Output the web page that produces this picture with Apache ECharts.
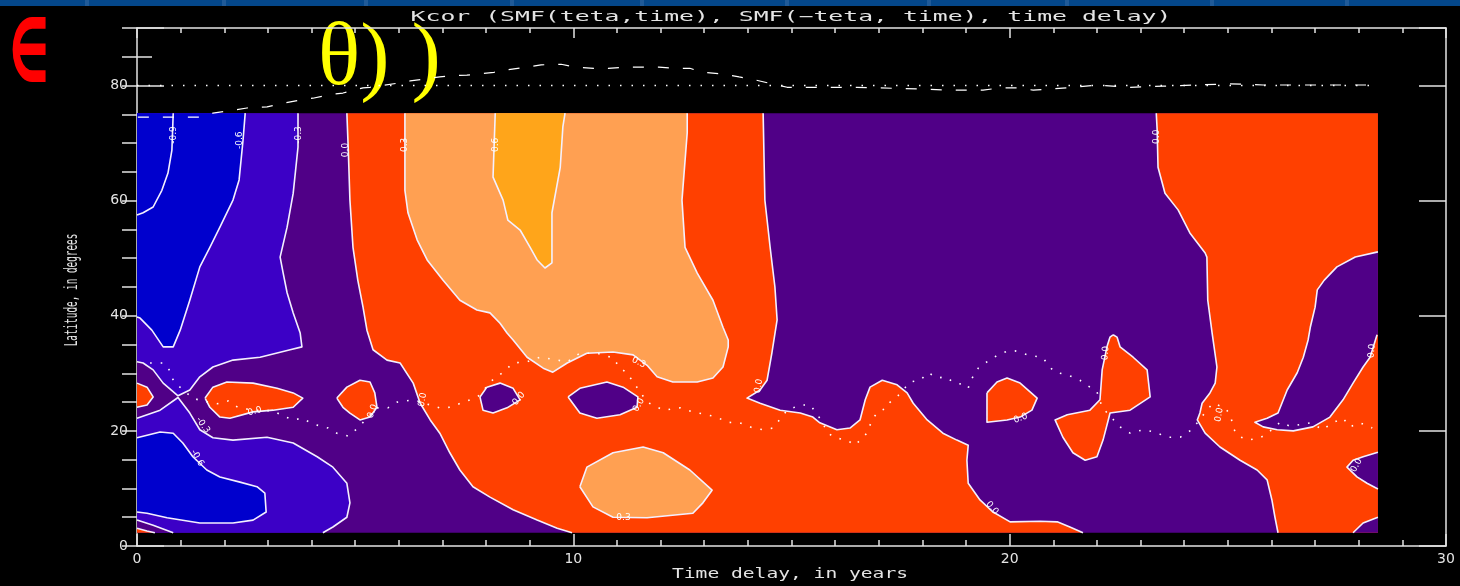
<!DOCTYPE html>
<html>
<head>
<meta charset="utf-8">
<script src="https://cdn.jsdelivr.net/npm/echarts@6/dist/echarts.min.js"></script>
<style>
  html, body { margin: 0; padding: 0; background: #000; }
  #chart { width: 1460px; height: 586px; }
</style>
</head>
<body>
<div id="chart"></div>
<script>
// ---- axes ----
const xTicks = [0, 10, 20, 30];
const yTicks = [0, 20, 40, 60, 80];
const xRange = [0, 30];
const yRange = [0, 90];

// ---- correlation levels (Kcor) and their fills ----
const levelBounds = [-0.6, -0.3, 0.0, 0.3, 0.6];
const levelColors = ['#0000cd', '#3c00c6', '#500087', '#ff4000', '#ffa052', '#ffa51a'];

// extent of the correlation field: time delay (years), latitude (deg)
const fieldX = [0, 28.44];
const fieldY = [2.3, 75.2];
const fieldRect = [[0, 2.3], [28.44, 2.3], [28.44, 75.2], [0, 75.2]];

// ---- filled contour regions, [time delay, latitude] ----
const upperViolet = [[0,75.2],[3.69,75.2],[3.69,69.3],[3.58,61.3],[3.44,55.4],[3.28,50.2],[3.35,47.4],[3.44,44.0],[3.58,40.5],[3.74,37.0],[3.78,34.6],[3.51,34.1],[2.82,32.8],[2.20,32.3],[1.74,31.1],[1.44,29.4],[1.21,27.1],[0.94,26.1],[0.60,28.3],[0.37,30.6],[0.14,31.8],[0,32.0]];
const lowerViolet = [[0,22.2],[0.53,23.6],[0.94,25.8],[1.21,23.1],[1.44,20.2],[1.74,18.8],[2.20,18.4],[2.98,18.9],[3.58,17.9],[4.13,15.5],[4.49,13.7],[4.81,10.9],[4.88,7.5],[4.81,5.0],[4.49,3.3],[4.26,2.3],[0,2.3]];
const upperBlue = [[0,75.2],[2.48,75.2],[2.43,70.5],[2.34,63.6],[2.20,60.1],[1.90,55.4],[1.67,51.9],[1.44,48.5],[1.21,42.7],[0.99,37.5],[0.83,34.6],[0.60,34.6],[0.34,37.5],[0.07,39.6],[0,39.8]];
const lowerBlue = [[0,18.8],[0.53,19.8],[0.83,19.6],[1.05,17.9],[1.28,15.5],[1.60,13.2],[1.90,12.0],[2.36,11.1],[2.75,10.3],[2.93,9.2],[2.96,5.9],[2.66,4.5],[2.20,4.0],[1.44,4.0],[0.69,4.9],[0.23,5.7],[0,5.9]];
const cornerPurple = [[0,4.5],[0.37,3.6],[0.83,2.3],[0,2.3]];
const cornerOrange = [[0,3.1],[0.23,2.6],[0.41,2.3],[0,2.3]];
const edgeBlob = [[0,28.3],[0.23,27.6],[0.37,25.9],[0.23,24.5],[0,24.1]];
const blobA = [[1.56,25.7],[1.74,27.6],[2.06,28.5],[2.66,28.3],[3.21,27.4],[3.58,26.6],[3.80,25.7],[3.58,24.1],[3.12,23.6],[2.66,23.3],[2.13,22.2],[1.90,22.4],[1.67,24.1]];
const blobB = [[4.58,25.7],[4.81,27.6],[5.11,28.8],[5.34,28.5],[5.45,26.6],[5.50,24.1],[5.34,22.4],[5.11,21.9],[4.88,23.1],[4.72,24.1]];
const bigOrange = [[4.81,75.2],[14.35,75.2],[14.39,60.1],[14.51,51.9],[14.62,45.0],[14.67,39.3],[14.55,33.5],[14.44,28.8],[14.28,27.1],[13.98,25.7],[14.28,24.8],[14.74,23.6],[15.20,23.1],[15.49,22.4],[15.65,21.4],[16.04,20.2],[16.34,20.5],[16.57,21.9],[16.69,25.4],[16.80,27.6],[17.08,28.8],[17.42,28.0],[17.65,26.6],[17.79,24.8],[18.11,21.9],[18.47,19.6],[18.79,18.4],[19.05,17.5],[19.02,14.9],[19.05,10.9],[19.32,8.0],[19.62,5.9],[20.01,4.2],[20.70,4.3],[21.09,4.2],[21.38,3.3],[21.68,2.3],[9.97,2.3],[9.63,3.1],[9.17,4.5],[8.62,6.3],[8.09,8.5],[7.70,10.3],[7.40,13.2],[7.17,16.2],[6.94,19.6],[6.72,21.9],[6.49,24.8],[6.33,28.3],[6.03,31.8],[5.73,32.3],[5.41,34.1],[5.27,37.5],[5.18,41.5],[5.06,46.2],[4.95,51.9],[4.88,60.1],[4.84,69.3]];
const upperLight = [[6.14,75.2],[12.61,75.2],[12.61,71.8],[12.49,60.1],[12.56,51.9],[12.84,47.4],[13.20,42.7],[13.43,38.0],[13.55,35.8],[13.55,34.6],[13.43,31.1],[13.20,29.2],[12.84,28.5],[12.28,28.5],[11.92,29.4],[11.69,31.4],[11.37,33.2],[10.91,33.7],[10.31,33.5],[9.86,31.8],[9.53,30.2],[9.31,30.9],[8.94,32.8],[8.62,35.8],[8.48,37.0],[8.32,38.7],[8.09,40.5],[7.79,41.0],[7.40,42.7],[7.01,46.2],[6.65,49.7],[6.42,53.2],[6.21,57.9],[6.14,61.8]];
const goldTongue = [[8.21,75.2],[9.81,75.2],[9.76,72.8],[9.70,65.8],[9.51,57.9],[9.51,49.2],[9.35,48.3],[9.17,49.7],[9.01,51.9],[8.78,54.9],[8.50,56.6],[8.39,60.1],[8.16,64.1]];
const holeA = [[7.86,25.9],[8.02,27.6],[8.32,28.3],[8.62,27.4],[8.78,25.4],[8.48,24.0],[8.16,23.1],[7.93,23.6]];
const holeB = [[9.88,25.9],[10.15,27.4],[10.77,28.5],[11.14,27.6],[11.48,25.9],[11.46,24.1],[11.07,22.8],[10.54,22.2],[10.15,23.1]];
const lowerLight = [[10.15,10.3],[10.31,13.7],[10.91,16.2],[11.60,17.2],[12.06,16.2],[12.67,13.2],[13.18,9.7],[12.97,7.5],[12.74,5.7],[11.69,4.9],[10.91,5.0],[10.45,6.8]];
const blobC = [[19.48,26.6],[19.71,28.5],[19.94,29.2],[20.24,28.3],[20.63,25.7],[20.51,23.6],[20.24,22.4],[19.94,21.9],[19.48,21.5]];
const hourglass = [[22.37,36.7],[22.46,36.3],[22.53,34.6],[22.83,32.8],[23.15,30.6],[23.22,25.9],[22.76,23.6],[22.30,23.1],[22.26,21.9],[22.14,18.4],[22.00,15.5],[21.73,14.9],[21.45,16.2],[21.22,18.9],[21.04,21.9],[21.32,22.8],[21.84,23.6],[22.07,25.4],[22.12,30.6],[22.23,34.6],[22.30,36.3]];
const rightOrange = [[23.36,75.2],[28.44,75.2],[28.44,2.3],[26.15,2.3],[26.08,5.0],[26.01,8.0],[25.90,11.5],[25.67,13.2],[25.28,14.9],[24.82,17.2],[24.48,19.6],[24.30,21.9],[24.36,23.1],[24.41,24.8],[24.59,26.6],[24.71,28.3],[24.75,31.1],[24.64,37.0],[24.54,42.7],[24.52,50.2],[24.48,50.9],[24.13,54.4],[23.86,58.4],[23.56,61.3],[23.40,65.8],[23.38,72.3]];
const rightPurpleTop = [[28.44,51.1],[27.92,50.2],[27.50,48.5],[27.21,46.2],[27.05,44.5],[27.00,41.5],[26.89,38.0],[26.84,35.8],[26.73,32.8],[26.59,30.1],[26.36,27.1],[26.15,23.1],[25.90,22.2],[25.62,21.5],[25.81,20.7],[26.13,20.2],[26.50,20.0],[26.95,20.7],[27.34,22.4],[27.64,25.4],[27.87,28.3],[28.10,31.1],[28.26,32.8],[28.42,36.7],[28.44,36.7]];
const rightPurpleMid = [[28.44,16.3],[28.10,15.5],[27.87,14.9],[27.73,13.7],[27.96,12.0],[28.19,10.9],[28.44,9.9]];
const rightPurpleLow = [[28.44,5.0],[28.10,4.0],[27.87,2.3],[28.44,2.3]];
// open contour line (-0.9) inside the strongest anti-correlation patch
const lineMinus09 = [[0.83,75.2],[0.80,68.8],[0.71,64.8],[0.57,61.8],[0.37,58.9],[0.14,57.9],[0,57.5]];

// ---- contour labels: [time delay, latitude, text, angle in degrees] ----
const contourLabels = [
  [0.83, 71.4, '-0.9', 90], [2.36, 70.5, '-0.6', 90], [3.71, 71.4, '-0.3', 90],
  [4.79, 68.8, '0.0', 90], [6.14, 69.7, '0.3', 90], [8.21, 69.7, '0.6', 90],
  [23.38, 71.1, '0.0', 90],
  [1.51, 21.0, '-0.3', -55], [1.38, 15.3, '-0.6', -60], [2.7, 23.4, '0.0', 15],
  [5.4, 23.4, '0.0', 70], [6.55, 25.4, '0.0', 80], [8.75, 25.6, '0.0', 50],
  [11.5, 31.9, '0.3', -25], [11.5, 24.5, '0.0', 60], [11.15, 4.9, '0.3', 0],
  [14.25, 27.8, '0.0', 80], [20.25, 22.2, '0.0', 20], [19.6, 6.6, '0.0', -50],
  [22.2, 33.5, '0.0', 85], [24.8, 22.8, '0.0', 80], [28.3, 33.9, '0.0', 85],
  [27.95, 14.0, '0.0', 60]
];

// ---- overplotted curves ----
const dottedCurve = [[0.30,31.8],[0.60,31.8],[0.76,30.4],[0.80,29.2],[0.92,28.0],[1.28,25.7],[1.49,25.2],[1.83,24.7],[2.09,25.2],[2.31,24.1],[2.66,23.6],[3.12,23.5],[3.35,22.6],[3.58,21.9],[3.78,22.2],[4.03,21.2],[4.38,20.5],[4.58,19.6],[4.84,19.1],[5.06,20.5],[5.27,22.2],[5.50,24.0],[5.75,24.0],[5.96,25.0],[6.33,25.4],[6.94,24.0],[7.17,24.1],[7.63,25.4],[7.86,26.2],[8.09,28.5],[8.39,30.2],[8.62,31.8],[8.94,32.0],[9.24,32.8],[9.63,32.3],[9.86,32.0],[10.15,33.5],[10.54,33.5],[10.91,32.7],[11.07,30.9],[11.23,30.1],[11.37,28.5],[11.53,26.8],[11.69,25.0],[12.06,23.6],[12.45,24.0],[12.74,23.3],[13.06,22.8],[13.29,22.4],[13.52,21.5],[13.82,21.4],[14.12,20.5],[14.35,20.2],[14.58,20.5],[14.90,23.6],[15.20,24.5],[15.43,24.5],[15.65,22.2],[15.84,19.6],[16.00,18.8],[16.27,18.4],[16.46,17.5],[16.62,18.8],[16.73,19.6],[16.80,21.0],[16.87,22.2],[16.98,23.3],[17.19,24.0],[17.26,25.0],[17.44,26.1],[17.72,28.5],[17.95,28.8],[18.13,30.1],[18.36,29.2],[18.52,29.4],[18.75,28.3],[18.91,28.1],[19.05,27.4],[19.09,28.5],[19.21,30.1],[19.28,30.9],[19.44,31.8],[19.73,33.2],[19.96,33.9],[20.12,33.9],[20.42,33.2],[20.77,32.7],[20.88,31.4],[21.04,30.2],[21.34,29.7],[21.61,28.8],[21.84,27.6],[22.00,26.8],[22.12,24.1],[22.26,22.9],[22.53,20.7],[22.76,19.6],[23.06,20.2],[23.33,19.8],[23.61,18.9],[23.91,18.9],[24.13,20.0],[24.30,21.4],[24.52,23.6],[24.66,24.8],[24.94,24.0],[25.05,22.8],[25.10,21.5],[25.12,20.5],[25.24,19.1],[25.47,18.4],[25.74,18.8],[25.90,19.5],[26.20,21.5],[26.43,20.8],[26.89,21.4],[27.19,20.2],[27.34,21.2],[27.64,22.2],[27.80,20.7],[28.03,21.4],[28.31,20.5]];
const dashedCurve = [[0.02,74.5],[1.44,74.5],[1.74,75.2],[2.20,75.7],[2.52,76.1],[2.98,76.3],[3.28,76.8],[3.74,77.5],[4.03,77.8],[4.49,78.5],[4.72,78.7],[5.18,79.6],[5.34,79.7],[5.96,80.4],[6.26,80.8],[6.94,81.5],[7.17,81.7],[7.56,81.8],[7.79,82.0],[8.18,82.3],[8.46,82.7],[8.94,83.2],[9.26,83.6],[9.72,83.7],[10.04,83.2],[10.47,83.0],[10.80,83.0],[11.18,83.2],[11.55,83.2],[11.96,83.2],[12.29,83.0],[12.67,83.0],[12.97,82.3],[13.45,82.0],[13.80,81.5],[14.16,81.0],[14.49,80.4],[14.90,79.7],[15.29,79.7],[16.5,79.7],[17.95,79.4],[18.68,79.2],[19.39,79.2],[19.78,79.6],[20.17,79.6],[20.54,79.2],[21.32,79.6],[22.00,80.1],[22.76,79.7],[23.52,79.9],[24.30,80.1],[25.05,80.3],[25.81,80.1],[26.59,80.1],[27.34,80.1],[28.10,80.1],[28.37,80.1]];
const refLatitude = 80;

// drawing order: later regions are painted over earlier ones
const regions = [
  { level: 2, pts: fieldRect, edge: false },
  { level: 1, pts: upperViolet }, { level: 1, pts: lowerViolet },
  { level: 0, pts: upperBlue }, { level: 0, pts: lowerBlue },
  { level: 2, pts: cornerPurple }, { level: 3, pts: cornerOrange },
  { level: 3, pts: edgeBlob }, { level: 3, pts: blobA }, { level: 3, pts: blobB },
  { level: 3, pts: bigOrange },
  { level: 4, pts: upperLight }, { level: 4, pts: lowerLight },
  { level: 5, pts: goldTongue },
  { level: 2, pts: holeA }, { level: 2, pts: holeB },
  { level: 3, pts: blobC }, { level: 3, pts: hourglass },
  { level: 3, pts: rightOrange },
  { level: 2, pts: rightPurpleTop }, { level: 2, pts: rightPurpleMid }, { level: 2, pts: rightPurpleLow },
  { level: null, pts: lineMinus09, closed: false }
];

const ink = '#e4e4e4';
const contourInk = '#f4f0ff';

function onFieldEdge(a, b) {
  const e = 0.03;
  const same = (v, w, t) => Math.abs(v - t) < e && Math.abs(w - t) < e;
  return same(a[0], b[0], fieldX[0]) || same(a[0], b[0], fieldX[1]) ||
         same(a[1], b[1], fieldY[0]) || same(a[1], b[1], fieldY[1]);
}

function renderRegion(params, api) {
  const r = regions[params.dataIndex];
  const pix = r.pts.map(p => api.coord(p));
  const children = [];
  if (r.level !== null) {
    children.push({ type: 'polygon', shape: { points: pix }, style: { fill: levelColors[r.level] } });
  }
  if (r.edge !== false) {
    const n = r.pts.length;
    const segs = r.closed === false ? n - 1 : n;
    let run = [];
    const flush = () => {
      if (run.length > 1) {
        children.push({ type: 'polyline', shape: { points: run },
          style: { stroke: contourInk, lineWidth: 1.6, fill: null, lineJoin: 'round' } });
      }
      run = [];
    };
    for (let i = 0; i < segs; i++) {
      const j = (i + 1) % n;
      if (onFieldEdge(r.pts[i], r.pts[j])) { flush(); continue; }
      if (!run.length) run.push(pix[i]);
      run.push(pix[j]);
    }
    flush();
  }
  return { type: 'group', children };
}

function renderLabel(params, api) {
  const l = contourLabels[params.dataIndex];
  const p = api.coord([l[0], l[1]]);
  return {
    type: 'text', x: p[0], y: p[1], rotation: l[3] * Math.PI / 180,
    style: { text: l[2], fill: '#ffffff', font: '9px "DejaVu Sans"', align: 'center', verticalAlign: 'middle' }
  };
}

const tickLine = { color: ink, width: 1.5 };
const axisBase = {
  type: 'value', splitLine: { show: false },
  axisLine: { show: true, onZero: false, lineStyle: tickLine }
};

const chart = echarts.init(document.getElementById('chart'), null, { renderer: 'canvas' });

const topStripLines = [85, 222, 364, 510, 640, 785, 927, 1065, 1210, 1345];

chart.setOption({
  backgroundColor: '#000000',
  animation: false,
  grid: { left: 137, right: 14, top: 28, bottom: 40, containLabel: false, outerBoundsMode: 'none' },
  xAxis: [
    Object.assign({}, axisBase, {
      position: 'bottom', min: xRange[0], max: xRange[1], interval: 10,
      axisTick: { show: true, inside: true, length: 12, lineStyle: tickLine },
      minorTick: { show: true, splitNumber: 10, length: 6, lineStyle: tickLine },
      axisLabel: { show: true, color: ink, fontFamily: 'DejaVu Sans', fontSize: 14, margin: 6,
        formatter: v => (xTicks.indexOf(v) >= 0 ? String(v) : '') }
    }),
    Object.assign({}, axisBase, {
      position: 'top', min: xRange[0], max: xRange[1], interval: 10,
      axisTick: { show: true, inside: true, length: 10, lineStyle: tickLine },
      minorTick: { show: true, splitNumber: 10, length: 5, lineStyle: tickLine },
      axisLabel: { show: false }
    })
  ],
  yAxis: [
    Object.assign({}, axisBase, {
      position: 'left', min: yRange[0], max: yRange[1], interval: 20,
      axisTick: { show: true, inside: true, length: 27, lineStyle: tickLine },
      axisLabel: { show: true, color: ink, fontFamily: 'DejaVu Sans', fontSize: 14, margin: 9,
        formatter: v => (yTicks.indexOf(v) >= 0 ? String(v) : '') }
    }),
    Object.assign({}, axisBase, {
      position: 'left', min: yRange[0], max: yRange[1], interval: 5,
      axisLine: { show: false },
      axisTick: { show: true, inside: true, length: 15, lineStyle: tickLine },
      axisLabel: { show: false }
    }),
    Object.assign({}, axisBase, {
      position: 'right', min: yRange[0], max: yRange[1], interval: 20,
      axisTick: { show: true, inside: true, length: 27, lineStyle: tickLine },
      axisLabel: { show: false }
    }),
    Object.assign({}, axisBase, {
      position: 'right', min: yRange[0], max: yRange[1], interval: 5,
      axisLine: { show: false },
      axisTick: { show: true, inside: true, length: 15, lineStyle: tickLine },
      axisLabel: { show: false }
    })
  ],
  series: [
    {
      type: 'custom', name: 'Kcor', coordinateSystem: 'cartesian2d',
      xAxisIndex: 0, yAxisIndex: 0, silent: true, clip: false, z: 1,
      data: regions.map(r => r.pts[0]),
      renderItem: renderRegion
    },
    {
      type: 'line', name: 'dotted', xAxisIndex: 0, yAxisIndex: 0, z: 3, silent: true,
      data: dottedCurve, symbol: 'none',
      lineStyle: { color: '#ffffff', width: 1.6, type: [1.6, 9] }
    },
    {
      type: 'line', name: 'reference', xAxisIndex: 0, yAxisIndex: 0, z: 3, silent: true,
      data: [[0, refLatitude], [fieldX[1], refLatitude]], symbol: 'none',
      lineStyle: { color: '#ffffff', width: 1.5, type: [1.5, 10] }
    },
    {
      type: 'line', name: 'dashed', xAxisIndex: 0, yAxisIndex: 0, z: 3, silent: true,
      data: dashedCurve, symbol: 'none',
      lineStyle: { color: '#ffffff', width: 1.2, type: [11, 14] }
    },
    {
      type: 'custom', name: 'labels', coordinateSystem: 'cartesian2d',
      xAxisIndex: 0, yAxisIndex: 0, silent: true, clip: false, z: 4,
      data: contourLabels.map(l => [l[0], l[1]]),
      renderItem: renderLabel
    }
  ],
  graphic: [
    { type: 'rect', silent: true, shape: { x: 0, y: 0, width: 1460, height: 6 }, style: { fill: '#04478a' } }
  ].concat(topStripLines.map(x => ({
    type: 'rect', silent: true, shape: { x: x, y: 0, width: 4, height: 6 }, style: { fill: '#1f5a98' }
  }))).concat([
    { type: 'text', silent: true, x: 791, y: 17, scaleX: 1.77,
      style: { text: 'Kcor (SMF(teta,time), SMF(\u2212teta, time), time delay)', fill: ink,
        font: '14px "DejaVu Sans Mono"', align: 'center', verticalAlign: 'middle' } },
    { type: 'text', silent: true, x: 790, y: 574, scaleX: 1.4,
      style: { text: 'Time delay, in years', fill: ink,
        font: '14px "DejaVu Sans Mono"', align: 'center', verticalAlign: 'middle' } },
    { type: 'text', silent: true, x: 73, y: 290, rotation: Math.PI / 2, scaleX: 0.55,
      style: { text: 'Latitude, in degrees', fill: ink,
        font: '17px "DejaVu Sans Mono"', align: 'center', verticalAlign: 'middle' } },
    { type: 'text', silent: true, x: 6, y: 55, scaleX: 0.6,
      style: { text: '\u2208', fill: '#ff0000',
        font: 'bold 104px "DejaVu Serif", serif', align: 'left', verticalAlign: 'middle' } },
    { type: 'text', silent: true, x: 318, y: 61,
      style: { text: '\u03b8) )', fill: '#ffff00',
        font: '88px "Liberation Serif", "DejaVu Serif", serif', align: 'left', verticalAlign: 'middle' } }
  ])
});
</script>
</body>
</html>
